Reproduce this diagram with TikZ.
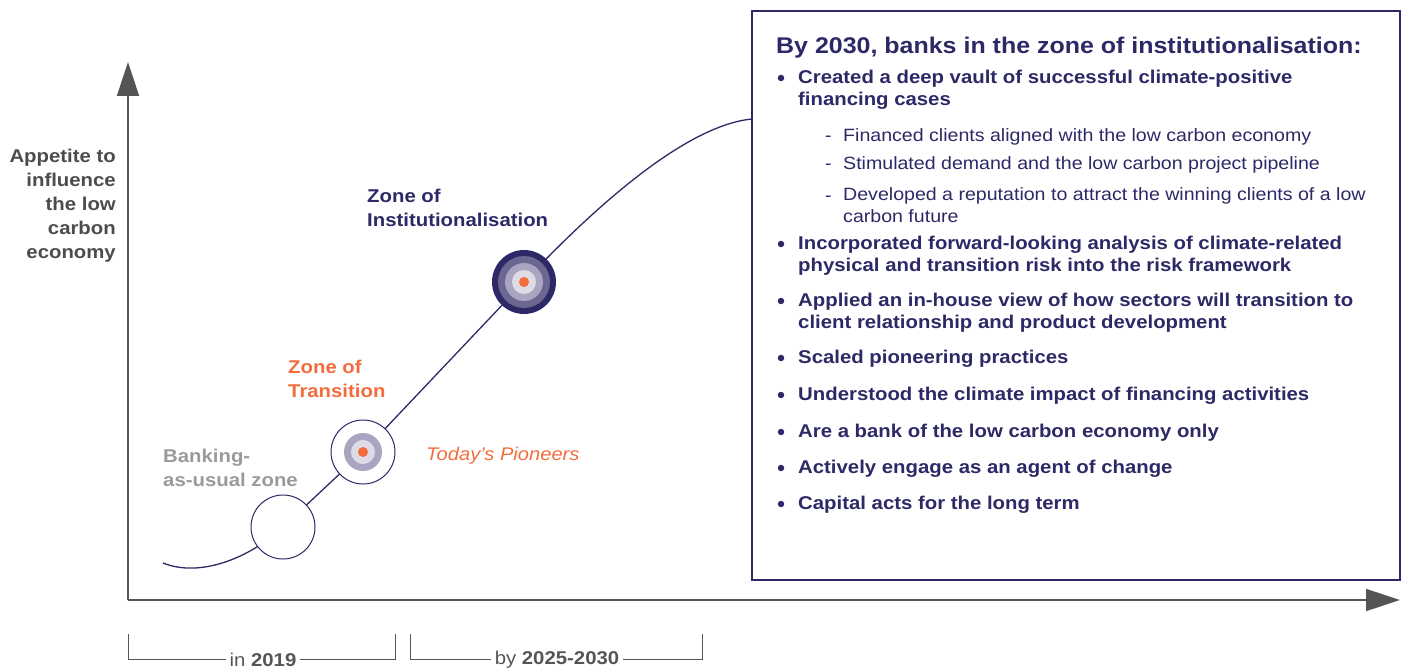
\documentclass[tikz,border=0pt]{standalone}
\usepackage{fontspec}
\setmainfont{Liberation Sans}[FakeStretch=1.1]
\usetikzlibrary{positioning, arrows.meta}

\definecolor{navy}{HTML}{2C2966}
\definecolor{ringA}{HTML}{6C6790}
\definecolor{ringB}{HTML}{A9A5C1}
\definecolor{ringC}{HTML}{DDDBE6}
\definecolor{pioneer}{HTML}{F26C3C}
\definecolor{usual}{HTML}{9A9A9A}
\definecolor{axisgray}{HTML}{555555}

\begin{document}
\begin{tikzpicture}[
            x=1pt, y=-1pt,
            axis/.style={draw=axisgray, line width=1.6pt, -{Triangle[length=34pt, width=22pt]}},
            bracket/.style={draw=axisgray, line width=0.8pt},
            zone/.style={circle, draw=navy, line width=1pt, fill=white, minimum size=64pt, inner sep=0pt},
            ring/.style={circle, minimum size=#1, inner sep=0pt},
            label/.style={font=\fontsize{18.5}{24}\selectfont\bfseries, align=left, anchor=west, inner sep=0pt},
            item/.style={font=\fontsize{18.5}{22}\selectfont\bfseries, text=navy, align=left, anchor=west, inner sep=0pt},
            subitem/.style={font=\fontsize{17.8}{22}\selectfont, text=navy, align=left, anchor=west, inner sep=0pt},
            bullet/.style={circle, fill=navy, minimum size=6.5pt, inner sep=0pt},
            every node/.style={align=center}
        ]
        \useasboundingbox (0,0) rectangle (1405,671);

        % Axes
        \coordinate (origin) at (128,600);
        \coordinate (ytip) at (128,62);
        \coordinate (xtip) at (1400,600);
        \draw[axis] (origin) -- (ytip);
        \draw[axis] (origin) -- (xtip);
        \node[label, anchor=east, align=right, text=axisgray!90!black] (appetite) at (116,206)
            {Appetite to\\influence\\the low\\carbon\\economy};

        % Curve
        \coordinate (cstart) at (163,563);
        \coordinate (cbau) at (283,527);
        \coordinate (ctrans) at (363,452);
        \coordinate (cinst) at (524,282);
        \coordinate (cend) at (752,119);
        \draw[navy, line width=1.3pt] (cstart) .. controls (200,578) and (250,558) .. (cbau)
            -- (ctrans) -- (cinst) .. controls (604,197) and (690,125) .. (cend);

        % Zones
        \node[zone] (bau) at (cbau) {};
        \node[zone] (trans) at (ctrans) {};
        \node[ring=38pt, fill=ringB] at (trans) {};
        \node[ring=24pt, fill=ringC] at (trans) {};
        \node[ring=10pt, fill=pioneer] at (trans) {};
        \node[ring=64pt, fill=navy] (inst) at (cinst) {};
        \node[ring=52pt, fill=ringA] at (inst) {};
        \node[ring=38pt, fill=ringB] at (inst) {};
        \node[ring=24pt, fill=ringC] at (inst) {};
        \node[ring=10pt, fill=pioneer] at (inst) {};

        \node[label, text=navy] (instlbl) at (367,208) {Zone of\\Institutionalisation};
        \node[label, text=pioneer] (translbl) at (288,379) {Zone of\\Transition};
        \node[label, text=usual] (baulbl) at (163,468) {Banking-\\as-usual zone};
        \node[label, font=\fontsize{18.3}{24}\selectfont\itshape, text=pioneer] (pioneers) at (426,456) {Today's Pioneers};

        % Box
        \node[draw=navy, line width=2pt, minimum width=648pt, minimum height=569pt, anchor=north west] (box) at (751,10) {};
        \node[item, font=\fontsize{22.7}{26}\selectfont\bfseries] (title) at (776,48)
            {By 2030, banks in the zone of institutionalisation:};

        \node[item] (i1) at (798,90) {Created a deep vault of successful climate-positive\\financing cases};
        \node[subitem] (s1) at (843,137) {Financed clients aligned with the low carbon economy};
        \node[subitem] (s2) at (843,165) {Stimulated demand and the low carbon project pipeline};
        \node[subitem] (s3) at (843,205) {Developed a reputation to attract the winning clients of a low\\carbon future};
        \node[item] (i2) at (798,256) {Incorporated forward-looking analysis of climate-related\\physical and transition risk into the risk framework};
        \node[item] (i3) at (798,313) {Applied an in-house view of how sectors will transition to\\client relationship and product development};
        \node[item] (i4) at (798,359) {Scaled pioneering practices};
        \node[item] (i5) at (798,396) {Understood the climate impact of financing activities};
        \node[item] (i6) at (798,433) {Are a bank of the low carbon economy only};
        \node[item] (i7) at (798,469) {Actively engage as an agent of change};
        \node[item] (i8) at (798,505) {Capital acts for the long term};

        \foreach \y in {78,244,301,358,395,432,468,504}
            \node[bullet] at (781,\y) {};
        \foreach \y in {137,165,197}
            \node[subitem] at (825,\y) {-\vphantom{Fg}};

        % Time brackets
        \node[font=\fontsize{18.5}{22}\selectfont, text=axisgray] (t2019) at (263,660) {in \textbf{2019}};
        \node[font=\fontsize{18.5}{22}\selectfont, text=axisgray] (t2030) at (557,660) {by \textbf{2025-2030}};
        \coordinate (b1l) at (128,634);
        \coordinate (b1r) at (395,634);
        \coordinate (b2l) at (410,634);
        \coordinate (b2r) at (702,634);
        \draw[bracket] (b1l) |- ([yshift=1pt]t2019.west);
        \draw[bracket] ([yshift=1pt]t2019.east) -| (b1r);
        \draw[bracket] (b2l) |- ([yshift=1pt]t2030.west);
        \draw[bracket] ([yshift=1pt]t2030.east) -| (b2r);

    \end{tikzpicture}
\end{document}
